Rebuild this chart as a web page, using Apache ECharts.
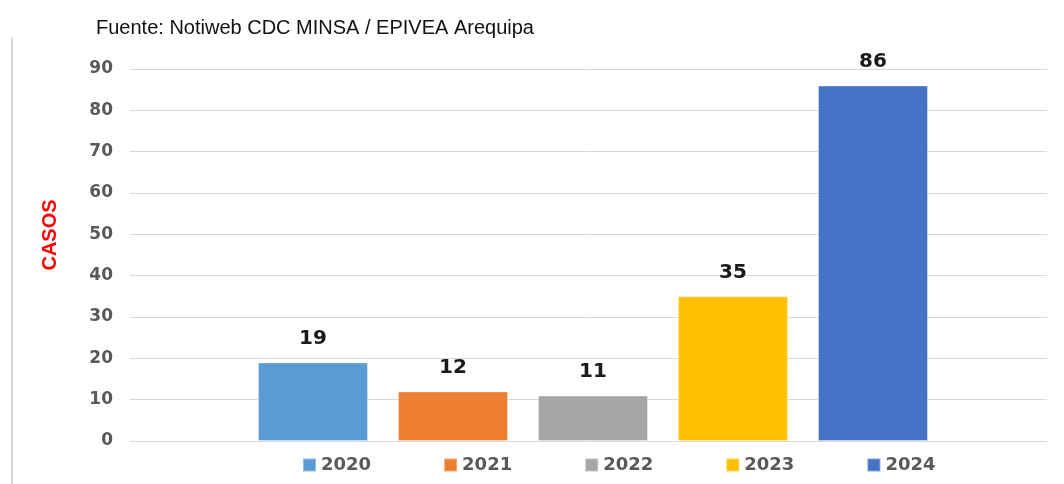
<!DOCTYPE html>
<html>
<head>
<meta charset="utf-8">
<script src="https://cdn.jsdelivr.net/npm/echarts@6/dist/echarts.min.js"></script>
<style>
  html, body { margin: 0; padding: 0; background: #fff; }
  #main { width: 1064px; height: 484px; }
</style>
</head>
<body>
<div id="main"></div>
<script>
const years = ["2020", "2021", "2022", "2023", "2024"];
const casos = [19, 12, 11, 35, 86];
const colors = ["#5B9BD5", "#ED7D31", "#A5A5A5", "#FFC000", "#4472C4"];
const yTicks = [0, 10, 20, 30, 40, 50, 60, 70, 80, 90];

const chart = echarts.init(document.getElementById("main"));

// one series per year so the legend gets one entry each
const series = years.map((y, i) => ({
  name: y,
  type: "bar",
  xAxisIndex: 1,
  yAxisIndex: 1,
  barWidth: 110,
  barGap: "-100%",
  itemStyle: { color: colors[i], borderColor: "rgba(255,255,255,0.35)", borderWidth: 1 },
  label: {
    show: true,
    position: "top",
    distance: 14,
    color: "#1a1a1a",
    fontFamily: "DejaVu Sans",
    fontWeight: "bold",
    fontSize: 20,
  },
  data: years.map((_, j) => (j === i ? casos[j] : "-")),
}));

const option = {
  animation: false,
  textStyle: { fontFamily: "Liberation Sans" },
  title: {
    text: "Fuente: Notiweb CDC MINSA / EPIVEA Arequipa",
    left: 91,
    top: 13,
    textStyle: {
      fontFamily: "Liberation Sans",
      fontWeight: "normal",
      fontSize: 20,
      color: "#111",
    },
  },
  legend: {
    left: 297,
    top: 451,
    itemWidth: 13,
    itemHeight: 13,
    itemGap: 72,
    icon: "rect",
    textStyle: {
      fontFamily: "DejaVu Sans",
      fontWeight: "bold",
      fontSize: 18,
      color: "#595959",
    },
    data: years,
  },
  grid: [
    { left: 130, right: 17, top: 69, bottom: 43 },
    { left: 243, width: 700, top: 69, bottom: 43 },
  ],
  xAxis: [
    { type: "category", gridIndex: 0, data: [""], show: false },
    { type: "category", gridIndex: 1, data: years, show: false },
  ],
  yAxis: [
    {
      type: "value",
      gridIndex: 0,
      min: yTicks[0],
      max: yTicks[yTicks.length - 1],
      interval: 10,
      axisLine: { show: false },
      axisTick: { show: false },
      axisLabel: {
        margin: 17,
        color: "#595959",
        fontFamily: "DejaVu Sans",
        fontWeight: "bold",
        fontSize: 17,
      },
      splitLine: { lineStyle: { color: "#d9d9d9", width: 1 } },
    },
    {
      type: "value",
      gridIndex: 1,
      min: yTicks[0],
      max: yTicks[yTicks.length - 1],
      interval: 10,
      show: false,
      splitLine: { show: false },
    },
  ],
  graphic: [
    {
      type: "line",
      shape: { x1: 12, y1: 38, x2: 12, y2: 484 },
      style: { stroke: "#d9d9d9", lineWidth: 2 },
    },
    {
      type: "text",
      x: 50,
      y: 235,
      rotation: Math.PI / 2,
      style: {
        text: "CASOS",
        fill: "#FF0000",
        font: "bold 20px 'Liberation Sans', sans-serif",
        align: "center",
        verticalAlign: "middle",
      },
    },
  ],
  series: series,
};

chart.setOption(option);
</script>
</body>
</html>
